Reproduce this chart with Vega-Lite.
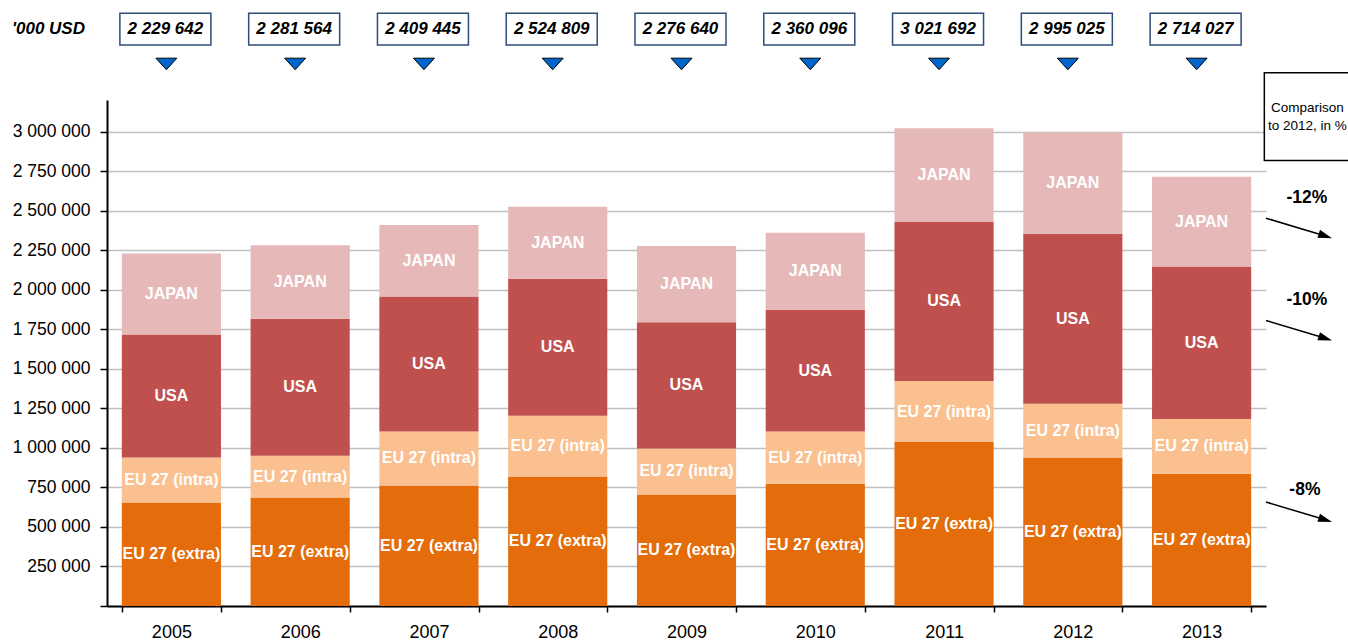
{
  "$schema": "https://vega.github.io/schema/vega-lite/v6.json",
  "width": 1159,
  "height": 506,
  "autosize": {"type": "none"},
  "padding": {"left": 107, "top": 100, "right": 82, "bottom": 35},
  "config": {
    "view": {"stroke": null},
    "font": "Liberation Sans",
    "locale": {"number": {"decimal": ".", "thousands": " ", "grouping": [3], "currency": ["", ""]}}
  },
  "datasets": {
    "segments": [
      {"year": "2005", "region": "EU 27 (extra)", "order": 1, "value": 655000},
      {"year": "2005", "region": "EU 27 (intra)", "order": 2, "value": 284000},
      {"year": "2005", "region": "USA", "order": 3, "value": 778000},
      {"year": "2005", "region": "JAPAN", "order": 4, "value": 512642},
      {"year": "2006", "region": "EU 27 (extra)", "order": 1, "value": 686500},
      {"year": "2006", "region": "EU 27 (intra)", "order": 2, "value": 263600},
      {"year": "2006", "region": "USA", "order": 3, "value": 866000},
      {"year": "2006", "region": "JAPAN", "order": 4, "value": 465464},
      {"year": "2007", "region": "EU 27 (extra)", "order": 1, "value": 762300},
      {"year": "2007", "region": "EU 27 (intra)", "order": 2, "value": 341400},
      {"year": "2007", "region": "USA", "order": 3, "value": 853300},
      {"year": "2007", "region": "JAPAN", "order": 4, "value": 452445},
      {"year": "2008", "region": "EU 27 (extra)", "order": 1, "value": 819200},
      {"year": "2008", "region": "EU 27 (intra)", "order": 2, "value": 383700},
      {"year": "2008", "region": "USA", "order": 3, "value": 866000},
      {"year": "2008", "region": "JAPAN", "order": 4, "value": 455909},
      {"year": "2009", "region": "EU 27 (extra)", "order": 1, "value": 705400},
      {"year": "2009", "region": "EU 27 (intra)", "order": 2, "value": 290800},
      {"year": "2009", "region": "USA", "order": 3, "value": 799000},
      {"year": "2009", "region": "JAPAN", "order": 4, "value": 481440},
      {"year": "2010", "region": "EU 27 (extra)", "order": 1, "value": 773100},
      {"year": "2010", "region": "EU 27 (intra)", "order": 2, "value": 330600},
      {"year": "2010", "region": "USA", "order": 3, "value": 769300},
      {"year": "2010", "region": "JAPAN", "order": 4, "value": 487096},
      {"year": "2011", "region": "EU 27 (extra)", "order": 1, "value": 1036700},
      {"year": "2011", "region": "EU 27 (intra)", "order": 2, "value": 385600},
      {"year": "2011", "region": "USA", "order": 3, "value": 1006900},
      {"year": "2011", "region": "JAPAN", "order": 4, "value": 592492},
      {"year": "2012", "region": "EU 27 (extra)", "order": 1, "value": 939300},
      {"year": "2012", "region": "EU 27 (intra)", "order": 2, "value": 339500},
      {"year": "2012", "region": "USA", "order": 3, "value": 1074600},
      {"year": "2012", "region": "JAPAN", "order": 4, "value": 641625},
      {"year": "2013", "region": "EU 27 (extra)", "order": 1, "value": 836300},
      {"year": "2013", "region": "EU 27 (intra)", "order": 2, "value": 345700},
      {"year": "2013", "region": "USA", "order": 3, "value": 964700},
      {"year": "2013", "region": "JAPAN", "order": 4, "value": 567327}
    ],
    "totals": [
      {"year": "2005", "total": 2229642},
      {"year": "2006", "total": 2281564},
      {"year": "2007", "total": 2409445},
      {"year": "2008", "total": 2524809},
      {"year": "2009", "total": 2276640},
      {"year": "2010", "total": 2360096},
      {"year": "2011", "total": 3021692},
      {"year": "2012", "total": 2995025},
      {"year": "2013", "total": 2714027}
    ],
    "one": [{"k": 1}]
  },
  "layer": [
    {
      "layer": [
        {
          "data": {"name": "segments"},
          "mark": {"type": "bar"},
          "encoding": {
            "x": {
              "field": "year", "type": "ordinal",
              "scale": {"type": "band", "paddingInner": 0.23, "paddingOuter": 0.115},
              "axis": {"title": null, "tickBand": "extent", "domainColor": "black", "domainWidth": 2, "tickColor": "black", "tickWidth": 1.5, "tickSize": 6, "labelFontSize": 18, "labelColor": "black", "labelPadding": 11, "labelAngle": 0, "grid": false}
            },
            "y": {
              "field": "value", "type": "quantitative", "stack": "zero",
              "scale": {"domain": [0, 3200000], "nice": false, "zero": true},
              "axis": {"title": null, "values": [0, 250000, 500000, 750000, 1000000, 1250000, 1500000, 1750000, 2000000, 2250000, 2500000, 2750000, 3000000], "format": ",d", "labelExpr": "datum.value == 0 ? '' : datum.label", "domainColor": "black", "domainWidth": 2, "tickColor": "black", "tickSize": 7, "tickWidth": 1.5, "labelFontSize": 17.5, "labelColor": "black", "labelPadding": 10, "gridColor": "#c0c0c0", "gridWidth": 1.5}
            },
            "color": {
              "field": "region", "type": "nominal",
              "scale": {"domain": ["EU 27 (extra)", "EU 27 (intra)", "USA", "JAPAN"], "range": ["#e46c0a", "#fac090", "#c0504d", "#e6b9b8"]},
              "legend": null
            },
            "order": {"field": "order", "type": "quantitative"}
          }
        },
        {
          "data": {"name": "segments"},
          "mark": {"type": "text", "color": "white", "fontWeight": "bold", "fontSize": 16, "baseline": "middle", "align": "center"},
          "encoding": {
            "x": {"field": "year", "type": "ordinal"},
            "y": {"field": "value", "type": "quantitative", "stack": "zero", "bandPosition": 0.5},
            "detail": {"field": "region"},
            "order": {"field": "order", "type": "quantitative"},
            "text": {"field": "region"}
          }
        },
        {
          "data": {"name": "totals"},
          "mark": {"type": "bar", "width": 91, "xOffset": -6, "fill": "white", "stroke": "#2e4d7b", "strokeWidth": 1.5},
          "encoding": {
            "x": {"field": "year", "type": "ordinal"},
            "y": {"datum": 3748400, "type": "quantitative"},
            "y2": {"datum": 3548000}
          }
        },
        {
          "data": {"name": "totals"},
          "mark": {"type": "text", "fontWeight": "bold", "fontStyle": "italic", "fontSize": 17, "color": "black", "baseline": "middle", "align": "center", "dx": -6},
          "encoding": {
            "x": {"field": "year", "type": "ordinal"},
            "y": {"datum": 3649200, "type": "quantitative"},
            "text": {"field": "total", "type": "quantitative", "format": ",d"}
          }
        },
        {
          "data": {"name": "totals"},
          "mark": {"type": "point", "shape": "M-1,-0.55L1,-0.55L0,0.55Z", "size": 441, "filled": true, "fill": "#0066cc", "stroke": "black", "strokeWidth": 1, "opacity": 1, "xOffset": -5},
          "encoding": {
            "x": {"field": "year", "type": "ordinal"},
            "y": {"datum": 3428000, "type": "quantitative"}
          }
        }
      ]
    },
    {
      "data": {"name": "one"},
      "layer": [
        {
          "mark": {"type": "text", "fontWeight": "bold", "fontStyle": "italic", "fontSize": 17, "color": "black", "baseline": "middle", "align": "left"},
          "encoding": {
            "x": {"datum": -0.738, "type": "quantitative", "scale": {"domain": [0, 9], "nice": false, "zero": false}, "axis": null},
            "y": {"datum": 3649200, "type": "quantitative"},
            "text": {"value": "'000 USD"}
          }
        },
        {
          "mark": {"type": "rect", "fill": "white", "stroke": "black", "strokeWidth": 1.5},
          "encoding": {
            "x": {"datum": 8.987, "type": "quantitative", "scale": {"domain": [0, 9], "nice": false, "zero": false}, "axis": null},
            "x2": {"datum": 9.8},
            "y": {"datum": 3373000, "type": "quantitative"},
            "y2": {"datum": 2816700}
          }
        },
        {
          "mark": {"type": "text", "fontSize": 13.5, "color": "black", "baseline": "middle", "align": "center"},
          "encoding": {
            "x": {"datum": 9.322, "type": "quantitative", "scale": {"domain": [0, 9], "nice": false, "zero": false}, "axis": null},
            "y": {"datum": 3149800, "type": "quantitative"},
            "text": {"value": "Comparison"}
          }
        },
        {
          "mark": {"type": "text", "fontSize": 13.5, "color": "black", "baseline": "middle", "align": "center"},
          "encoding": {
            "x": {"datum": 9.322, "type": "quantitative", "scale": {"domain": [0, 9], "nice": false, "zero": false}, "axis": null},
            "y": {"datum": 3036000, "type": "quantitative"},
            "text": {"value": "to 2012, in %"}
          }
        },
        {
          "mark": {"type": "text", "fontSize": 17.5, "fontWeight": "bold", "color": "black", "baseline": "middle", "align": "center"},
          "encoding": {
            "x": {"datum": 9.318, "type": "quantitative", "scale": {"domain": [0, 9], "nice": false, "zero": false}, "axis": null},
            "y": {"datum": 2581000, "type": "quantitative"},
            "text": {"value": "-12%"}
          }
        },
        {
          "mark": {"type": "text", "fontSize": 17.5, "fontWeight": "bold", "color": "black", "baseline": "middle", "align": "center"},
          "encoding": {
            "x": {"datum": 9.318, "type": "quantitative", "scale": {"domain": [0, 9], "nice": false, "zero": false}, "axis": null},
            "y": {"datum": 1936000, "type": "quantitative"},
            "text": {"value": "-10%"}
          }
        },
        {
          "mark": {"type": "text", "fontSize": 17.5, "fontWeight": "bold", "color": "black", "baseline": "middle", "align": "center"},
          "encoding": {
            "x": {"datum": 9.302, "type": "quantitative", "scale": {"domain": [0, 9], "nice": false, "zero": false}, "axis": null},
            "y": {"datum": 735000, "type": "quantitative"},
            "text": {"value": "-8%"}
          }
        },
        {
          "mark": {"type": "rule", "stroke": "black", "strokeWidth": 1.5},
          "encoding": {
            "x": {"datum": 9.0, "type": "quantitative", "scale": {"domain": [0, 9], "nice": false, "zero": false}, "axis": null},
            "x2": {"datum": 9.461},
            "y": {"datum": 2452600, "type": "quantitative"},
            "y2": {"datum": 2340000}
          }
        },
        {
          "mark": {"type": "rule", "stroke": "black", "strokeWidth": 1.5},
          "encoding": {
            "x": {"datum": 9.0, "type": "quantitative", "scale": {"domain": [0, 9], "nice": false, "zero": false}, "axis": null},
            "x2": {"datum": 9.461},
            "y": {"datum": 1805300, "type": "quantitative"},
            "y2": {"datum": 1692800}
          }
        },
        {
          "mark": {"type": "rule", "stroke": "black", "strokeWidth": 1.5},
          "encoding": {
            "x": {"datum": 9.0, "type": "quantitative", "scale": {"domain": [0, 9], "nice": false, "zero": false}, "axis": null},
            "x2": {"datum": 9.461},
            "y": {"datum": 657400, "type": "quantitative"},
            "y2": {"datum": 544900}
          }
        },
        {
          "mark": {"type": "point", "shape": "M-1,-0.6L1,0L-1,0.6Z", "size": 196, "angle": 18, "filled": true, "fill": "black", "strokeWidth": 0, "opacity": 1},
          "encoding": {
            "x": {"datum": 9.461, "type": "quantitative", "scale": {"domain": [0, 9], "nice": false, "zero": false}, "axis": null},
            "y": {"datum": 2340000, "type": "quantitative"}
          }
        },
        {
          "mark": {"type": "point", "shape": "M-1,-0.6L1,0L-1,0.6Z", "size": 196, "angle": 18, "filled": true, "fill": "black", "strokeWidth": 0, "opacity": 1},
          "encoding": {
            "x": {"datum": 9.461, "type": "quantitative", "scale": {"domain": [0, 9], "nice": false, "zero": false}, "axis": null},
            "y": {"datum": 1692800, "type": "quantitative"}
          }
        },
        {
          "mark": {"type": "point", "shape": "M-1,-0.6L1,0L-1,0.6Z", "size": 196, "angle": 18, "filled": true, "fill": "black", "strokeWidth": 0, "opacity": 1},
          "encoding": {
            "x": {"datum": 9.461, "type": "quantitative", "scale": {"domain": [0, 9], "nice": false, "zero": false}, "axis": null},
            "y": {"datum": 544900, "type": "quantitative"}
          }
        }
      ]
    }
  ],
  "resolve": {"scale": {"x": "independent"}}
}
